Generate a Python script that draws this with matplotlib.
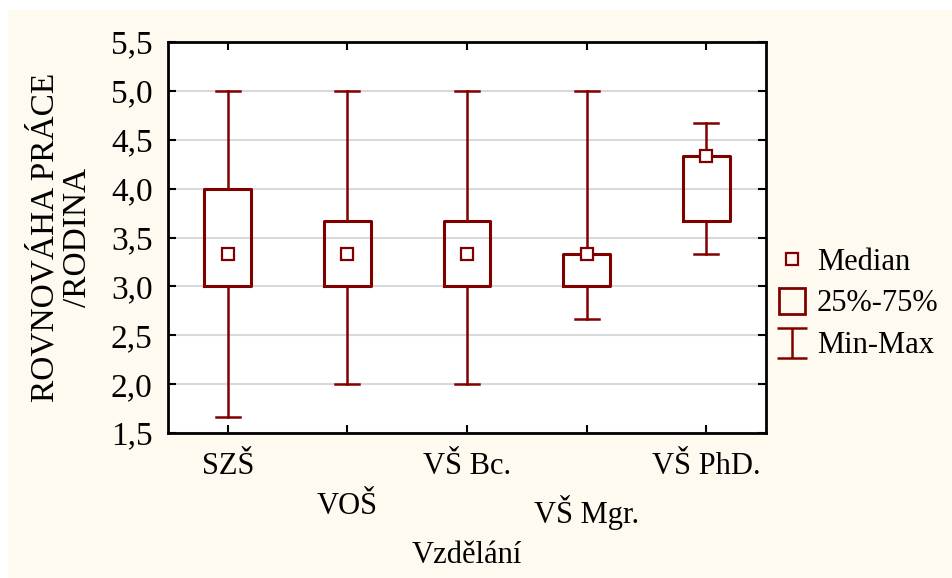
import matplotlib.pyplot as plt
from matplotlib.lines import Line2D
from matplotlib.patches import Rectangle
from matplotlib.path import Path

categories = ["SZŠ", "VOŠ", "VŠ Bc.", "VŠ Mgr.", "VŠ PhD."]
medians = [3.333, 3.333, 3.333, 3.333, 4.333]
q1 = [3.0, 3.0, 3.0, 3.0, 3.667]
q3 = [4.0, 3.667, 3.667, 3.333, 4.333]
mins = [1.667, 2.0, 2.0, 2.667, 3.333]
maxs = [5.0, 5.0, 5.0, 5.0, 4.667]
y_ticks = [1.5, 2.0, 2.5, 3.0, 3.5, 4.0, 4.5, 5.0, 5.5]

RED = "#800000"
CREAM = "#FFFAF0"
FS = 24
FS_SMALL = 22

plt.rcParams['font.family'] = ['Liberation Serif', 'DejaVu Serif']

fig = plt.figure(figsize=(9.53, 5.78), dpi=100, facecolor="white")
fig.patches.append(Rectangle((8 / 953, 0), 1, 1 - 10 / 578, transform=fig.transFigure,
                             facecolor=CREAM, edgecolor="none", zorder=-10))

ax = fig.add_axes([168 / 953, 1 - 433 / 578, 598 / 953, 391 / 578])
ax.set_facecolor("white")

stats = []
for i, name in enumerate(categories):
    stats.append({"label": name, "med": medians[i], "q1": q1[i], "q3": q3[i],
                  "whislo": mins[i], "whishi": maxs[i], "fliers": []})

ax.bxp(stats, positions=range(len(categories)), widths=0.39, capwidths=0.2,
       showfliers=False,
       boxprops=dict(color=RED, linewidth=2.2),
       whiskerprops=dict(color=RED, linewidth=1.8),
       capprops=dict(color=RED, linewidth=1.8),
       medianprops=dict(linewidth=0, alpha=0),
       zorder=3)
ax.plot(range(len(categories)), medians, linestyle="none", marker="s", markersize=8.5,
        markerfacecolor="white", markeredgecolor=RED, markeredgewidth=1.6, zorder=4)

ax.set_xlim(-0.5, 4.5)
ax.set_ylim(1.5, 5.5)
ax.set_yticks(y_ticks)
ax.set_yticklabels([f"{v:.1f}".replace(".", ",") for v in y_ticks])
ax.set_xticks(range(len(categories)))
ax.set_xticklabels([c if i % 2 == 0 else "\n" + c for i, c in enumerate(categories)],
                   linespacing=1.5, fontsize=FS_SMALL)
ax.grid(axis="y", color="#d9d9d9", linewidth=1.5, zorder=0)
ax.set_axisbelow(True)

ax.tick_params(direction="in", top=True, right=True, length=6, width=1.5,
               colors="black")
ax.tick_params(axis="y", pad=11, labelsize=FS)
ax.tick_params(axis="x", pad=14)
for s in ax.spines.values():
    s.set_linewidth(2)
    s.set_color("black")

ax.set_xlabel("Vzdělání", fontsize=FS_SMALL)
ax.xaxis.set_label_coords(0.5, -0.275)
ax.set_ylabel("ROVNOVÁHA PRÁCE\n/RODINA", fontsize=FS, linespacing=1.1)
ax.yaxis.set_label_coords(-0.125, 0.5)

# legend handles
cap_path = Path([(-1, 1), (1, 1), (0, 1), (0, -1), (-1, -1), (1, -1)],
                [Path.MOVETO, Path.LINETO, Path.MOVETO, Path.LINETO, Path.MOVETO, Path.LINETO])
handles = [
    Line2D([], [], linestyle="none", marker="s", markersize=8, markerfacecolor="none",
           markeredgecolor=RED, markeredgewidth=1.6),
    Line2D([], [], linestyle="none", marker="s", markersize=19, markerfacecolor="none",
           markeredgecolor=RED, markeredgewidth=2),
    Line2D([], [], linestyle="none", marker=cap_path, markersize=22, markerfacecolor="none",
           markeredgecolor=RED, markeredgewidth=1.8),
]
fig.legend(handles, ["Median", "25%-75%", "Min-Max"], loc="center left",
           bbox_to_anchor=(765 / 953, 1 - 304 / 578), frameon=False, fontsize=FS_SMALL,
           handlelength=1.0, handletextpad=0.3, labelspacing=0.42, borderaxespad=0)

fig.savefig("out.png", dpi=100, facecolor=fig.get_facecolor())
